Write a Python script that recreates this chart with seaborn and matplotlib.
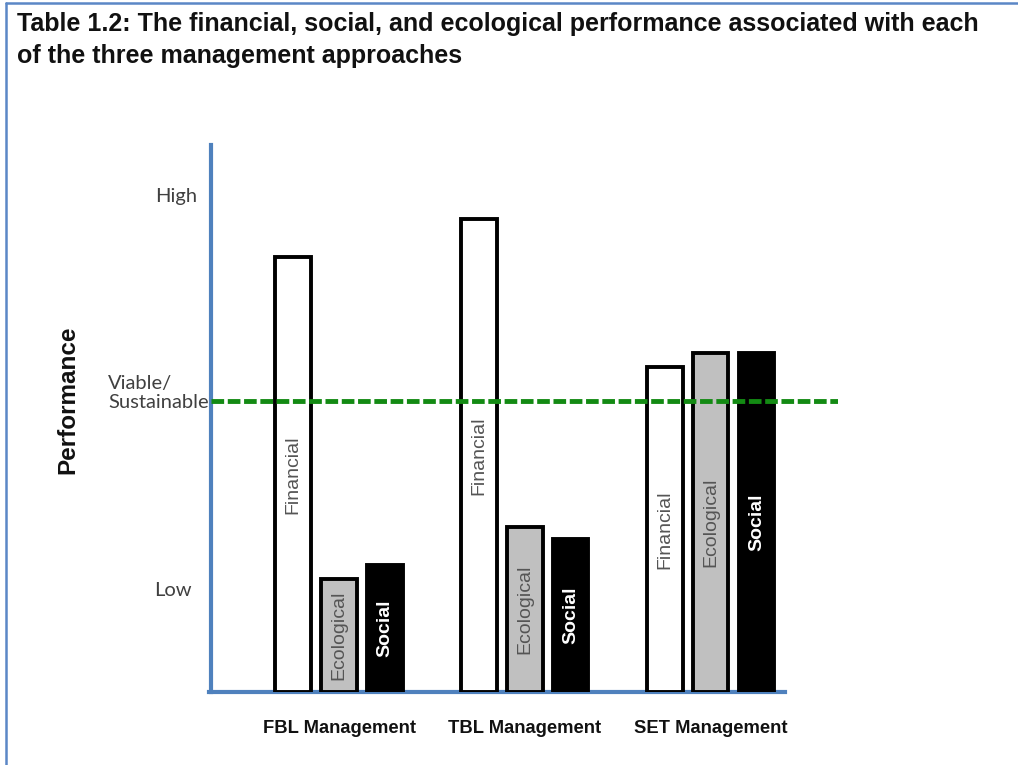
import matplotlib.pyplot as plt
from matplotlib.lines import Line2D
import pandas as pd
import seaborn as sns

# values (Low ~2, High ~10)
approaches = ['FBL Management', 'TBL Management', 'SET Management']
dimensions = ['Financial', 'Ecological', 'Social']
financial = [8.79, 9.56, 6.57]
ecological = [2.28, 3.33, 6.85]
social = [2.57, 3.09, 6.85]
viable_level = 5.88
level_values = [10.0, 2.06]
level_names = ['High', 'Low']

bar_colors = {'Financial': 'white', 'Ecological': '#c0c0c0', 'Social': 'black'}

df = pd.DataFrame({
    'approach': approaches * 3,
    'dimension': [d for d in dimensions for _ in approaches],
    'score': financial + ecological + social,
})

sns.set_style('white')
plt.rcParams['font.family'] = ['Liberation Sans', 'DejaVu Sans']

fig = plt.figure(figsize=(10.18, 7.65), dpi=100)
ax = fig.add_axes([211 / 1018, 73 / 765, 627 / 1018, 547 / 765])

sns.barplot(data=df, x='approach', y='score', hue='dimension',
            order=approaches, hue_order=dimensions, palette=bar_colors,
            saturation=1, width=0.74, gap=0.22, errorbar=None,
            edgecolor='black', linewidth=2.8, legend=False, ax=ax, zorder=3)

label_style = {
    'Financial': dict(color='#555555'),
    'Ecological': dict(color='#555555'),
    'Social': dict(color='white', fontweight='bold'),
}
for dim, container in zip(dimensions, ax.containers):
    for bar in container:
        ax.text(bar.get_x() + bar.get_width() / 2, bar.get_height() / 2, dim,
                rotation=90, ha='center', va='center', fontsize=14, zorder=6,
                **label_style[dim])

ax.axhline(viable_level, color='#138a13', lw=3.5, dashes=(2.6, 0.75), zorder=5)

ax.set_xlim(-0.689, 2.686)
ax.set_ylim(0, 11.05)
ax.set_yticks([])
ax.set_xlabel('')
ax.set_ylabel('')
sns.despine(ax=ax)
for side in ['left', 'bottom']:
    ax.spines[side].set_color('#4f81bd')
    ax.spines[side].set_linewidth(3)
ax.spines['bottom'].set_bounds(-0.70, 2.40)

ax.tick_params(axis='x', length=0, pad=20)
for lab in ax.get_xticklabels():
    lab.set_fontweight('bold')
    lab.set_fontsize(13.2)
    lab.set_color('#111111')

ytr = ax.get_yaxis_transform()
for val, name in zip(level_values, level_names):
    ax.text(-0.022 if name == 'High' else -0.031, val, name, transform=ytr,
            ha='right', va='center', fontsize=14.5, family='Lato', color='#404040')
ax.text(-0.004, viable_level + 0.16, 'Viable/\nSustainable', transform=ytr,
        ha='right', va='center', multialignment='left', fontsize=14.5,
        family='Lato', color='#404040', linespacing=1.15)

fig.text(68 / 1018, 1 - 400 / 765, 'Performance', rotation=90, ha='center',
         va='center', fontsize=17.5, fontweight='bold', color='#111111')

fig.text(17 / 1018, 1 - 12 / 765,
         'Table 1.2: The financial, social, and ecological performance associated with each\n'
         'of the three management approaches',
         ha='left', va='top', fontsize=18, fontweight='bold',
         color='#111111', linespacing=1.4)

# blue frame round the figure (top and left edges)
fig.add_artist(Line2D([6 / 1018, 1], [1 - 3 / 765, 1 - 3 / 765],
                      transform=fig.transFigure, color='#5b87c6', lw=1.8))
fig.add_artist(Line2D([6 / 1018, 6 / 1018], [0, 1 - 3 / 765],
                      transform=fig.transFigure, color='#5b87c6', lw=1.8))

fig.savefig('out.png', dpi=100)
